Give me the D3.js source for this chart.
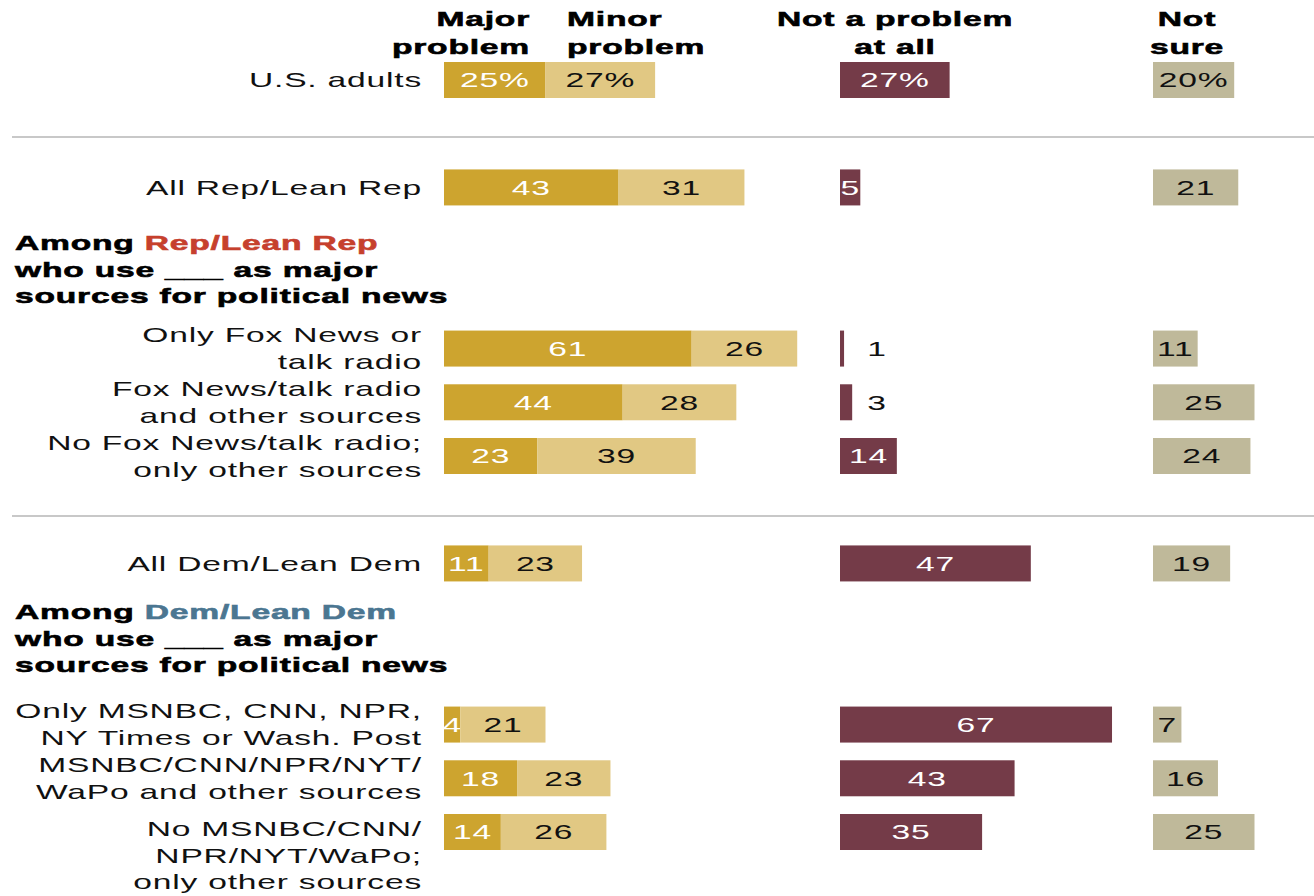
<!DOCTYPE html>
<html>
<head>
<meta charset="utf-8">
<script src="https://cdn.jsdelivr.net/npm/d3@7"></script>
<style>
  html, body { margin: 0; padding: 0; background: #fff; }
  svg text { font-family: "Liberation Sans", Arial, sans-serif; font-size: 21px; letter-spacing: 0.5px; }
</style>
</head>
<body>
<svg id="chart" width="1314" height="896"></svg>
<script>
// ---------- data ----------
const categories = [
  "U.S. adults",
  "All Rep/Lean Rep",
  "Only Fox News or|talk radio",
  "Fox News/talk radio|and other sources",
  "No Fox News/talk radio;|only other sources",
  "All Dem/Lean Dem",
  "Only MSNBC, CNN, NPR,|NY Times or Wash. Post",
  "MSNBC/CNN/NPR/NYT/|WaPo and other sources",
  "No MSNBC/CNN/|NPR/NYT/WaPo;|only other sources"
];
const majorProblem = [25, 43, 61, 44, 23, 11, 4, 18, 14];
const minorProblem = [27, 31, 26, 28, 39, 23, 21, 23, 26];
const notAProblem  = [27, 5, 1, 3, 14, 47, 67, 43, 35];
const notSure      = [20, 21, 11, 25, 24, 19, 7, 16, 25];
const columnHeaders = [
  ["Major", "problem"],
  ["Minor", "problem"],
  ["Not a problem", "at all"],
  ["Not", "sure"]
];
const groupHeadings = [
  { lead: "Among ", party: "Rep/Lean Rep", rest: ["who use ___ as major", "sources for political news"], color: "#C6402D" },
  { lead: "Among ", party: "Dem/Lean Dem", rest: ["who use ___ as major", "sources for political news"], color: "#4B7691" }
];

// ---------- layout ----------
const rowSlot = [0, 2, 5, 6, 7, 9, 12, 13, 14];
const headingSlot = [3.03, 9.9];
const SX = 1.6;
const barH = 36;
const colors = { major: "#CDA42F", minor: "#E1C883", notProb: "#743B48", notSure: "#BFB99A" };

const svg = d3.select("#chart");
const y = d3.scaleLinear().domain([0, 14]).range([80, 832]);
const w = d3.scaleLinear().domain([0, 100]).range([0, 406]);
const x0Problem = 444, x0Not = 840, x0Sure = 1153;

function txt(parent, x, yy, str, opt = {}) {
  const g = parent.append("g").attr("transform", `translate(${x},${yy}) scale(${SX},1)`);
  const t = g.append("text")
    .attr("text-anchor", opt.anchor || "start")
    .attr("dy", "0.35em")
    .attr("font-weight", opt.weight || "normal")
    .attr("fill", opt.fill || "#111");
  if (opt.weight === "bold") t.attr("stroke", opt.fill || "#000").attr("stroke-width", 0.6);
  if (str !== null) t.text(str);
  return t;
}

// separators
[137, 516].forEach(sy => {
  svg.append("line").attr("x1", 12).attr("x2", 1314).attr("y1", sy).attr("y2", sy)
    .attr("stroke", "#C8C8C8").attr("stroke-width", 2);
});

// column headers
const hdrPos = [[530, "end"], [567, "start"], [895, "middle"], [1187, "middle"]];
columnHeaders.forEach((lines, i) => {
  lines.forEach((ln, j) => txt(svg, hdrPos[i][0], 19 + j * 28, ln, { anchor: hdrPos[i][1], weight: "bold", fill: "#000" }));
});

// group headings
groupHeadings.forEach((h, i) => {
  const hy = y(headingSlot[i]);
  const t = txt(svg, 15, hy, null, { weight: "bold", fill: "#000" });
  t.append("tspan").text(h.lead);
  t.append("tspan").attr("fill", h.color).attr("stroke", h.color).text(h.party);
  h.rest.forEach((ln, j) => txt(svg, 15, hy + (j + 1) * 26.5, ln, { weight: "bold", fill: "#000" }));
});

// rows
categories.forEach((cat, i) => {
  const cy = y(rowSlot[i]);
  const lines = cat.split("|");
  const step = lines.length === 3 ? 26.5 : 27;
  const start = lines.length === 3 ? -3 : -(lines.length - 1) * 13.5;
  lines.forEach((ln, j) => txt(svg, 422, cy + start + j * step, ln, { anchor: "end" }));

  const pct = i === 0 ? "%" : "";
  const top = cy - barH / 2;
  // major
  const mw = w(majorProblem[i]);
  svg.append("rect").attr("x", x0Problem).attr("y", top).attr("width", mw).attr("height", barH).attr("fill", colors.major);
  txt(svg, x0Problem + mw / 2, cy, majorProblem[i] + pct, { anchor: "middle", fill: "#fff" });
  // minor
  const nw = w(minorProblem[i]);
  svg.append("rect").attr("x", x0Problem + mw).attr("y", top).attr("width", nw).attr("height", barH).attr("fill", colors.minor);
  txt(svg, x0Problem + mw + nw / 2, cy, minorProblem[i] + pct, { anchor: "middle", fill: "#111" });
  // not a problem
  const pw = w(notAProblem[i]);
  svg.append("rect").attr("x", x0Not).attr("y", top).attr("width", pw).attr("height", barH).attr("fill", colors.notProb);
  if (notAProblem[i] <= 3) {
    txt(svg, x0Not + 37, cy, notAProblem[i] + pct, { anchor: "middle", fill: "#111" });
  } else {
    txt(svg, x0Not + pw / 2, cy, notAProblem[i] + pct, { anchor: "middle", fill: "#fff" });
  }
  // not sure
  const sw = w(notSure[i]);
  svg.append("rect").attr("x", x0Sure).attr("y", top).attr("width", sw).attr("height", barH).attr("fill", colors.notSure);
  txt(svg, x0Sure + sw / 2, cy, notSure[i] + pct, { anchor: "middle", fill: "#111" });
});
</script>
</body>
</html>
